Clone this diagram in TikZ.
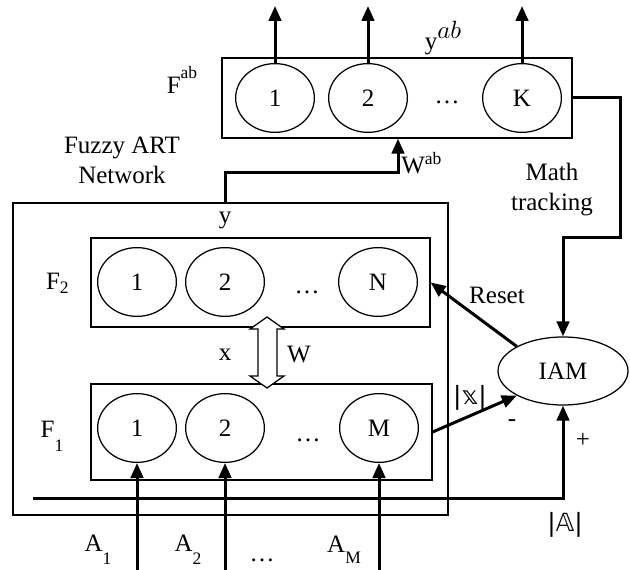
\documentclass[tikz,border=0pt]{standalone}
\usepackage{fontspec}
\setmainfont{Liberation Serif}
\newfontfamily\doublefont{DejaVu Sans}
\usetikzlibrary{arrows.meta,shapes,positioning}

\begin{document}
\begin{tikzpicture}[x=0.4pt,y=-0.4pt,
	boite/.style={draw,line width=0.5pt,inner sep=0pt},
	neurone/.style={draw,ellipse,line width=0.5pt,minimum width=31.5pt,minimum height=27.5pt,inner sep=0pt},
	fleche/.style={line width=1.2pt,-{Triangle[length=6pt,width=5pt]}},
	trait/.style={line width=1.2pt},
	etiq/.style={inner sep=0pt}]

%%%%%%%%%%%%%%%%%%%%%%
%%%	    Cadre       %%%
%%%%%%%%%%%%%%%%%%%%%%

\useasboundingbox (0,0) rectangle (630,570);

%%%%%%%%%%%%%%%%%%%%%%
%%%	    Couches     %%%
%%%%%%%%%%%%%%%%%%%%%%

% Couche F^ab
\node[boite,minimum width=140pt,minimum height=32pt] (fab) at (397,98) {};
\node[neurone] (k1) at (275,98) {1};
\node[neurone] (k2) at (368,98) {2};
\node[neurone] (kk) at (522,98) {K};
\node[etiq] (kdots) at (447,102) {\dots};

% Reseau Fuzzy ART
\node[boite,minimum width=174pt,minimum height=124.8pt] (art) at (230.5,359) {};

% Couche F2
\node[boite,minimum width=135.6pt,minimum height=35.6pt] (f2) at (260.5,282.5) {};
\node[neurone] (n1) at (137,282) {1};
\node[neurone] (n2) at (225,282) {2};
\node[neurone] (nn) at (378,282) {N};
\node[etiq] (ndots) at (307,292) {\dots};

% Couche F1
\node[boite,minimum width=136.4pt,minimum height=38.4pt] (f1) at (261.5,432) {};
\node[neurone] (m1) at (137,428) {1};
\node[neurone] (m2) at (225,428) {2};
\node[neurone] (mm) at (379,428) {M};
\node[etiq] (mdots) at (308,440) {\dots};

% Module IAM
\node[draw,ellipse,line width=0.5pt,minimum width=52pt,minimum height=27.2pt,inner sep=0pt] (iam) at (563,371) {IAM};

%%%%%%%%%%%%%%%%%%%%%%
%%%	    Liaisons    %%%
%%%%%%%%%%%%%%%%%%%%%%

% Sorties de F^ab
\coordinate (o1) at (275,6);
\coordinate (o2) at (368,6);
\coordinate (ok) at (522,6);
\draw[fleche] (k1.north) -- (o1);
\draw[fleche] (k2.north) -- (o2);
\draw[fleche] (kk.north) -- (ok);

% Sortie y vers W^ab
\coordinate (ysort) at (225,203);
\coordinate (ycoude) at (398,173);
\draw[fleche] (ysort) |- (ycoude) -- (fab.south -| ycoude);

% Math tracking vers IAM
\coordinate (mt) at (620,238);
\draw[fleche] (fab.east) -| (mt) -| (iam.north);

% Reset et |x|
\draw[fleche] (iam.152) -- (f2.east);
\draw[fleche] (f1.east) -- (iam.208);

% Entree |A|
\coordinate (adeb) at (33,498);
\draw[fleche] (adeb) -| (iam.south);

% Entrees A1 ... AM
\coordinate (a1) at (137,570);
\coordinate (a2) at (225,570);
\coordinate (am) at (379,570);
\draw[fleche] (a1) -- (m1.south);
\draw[fleche] (a2) -- (m2.south);
\draw[fleche] (am) -- (mm.south);

% Fleche double creuse entre F1 et F2
\draw[line width=0.5pt,fill=white] (267,317) -- (284,329) -- (277,329) -- (277,376) -- (284,376)
	-- (267,388) -- (250,376) -- (258,376) -- (258,329) -- (250,329) -- cycle;

%%%%%%%%%%%%%%%%%%%%%%
%%%	   Etiquettes   %%%
%%%%%%%%%%%%%%%%%%%%%%

\node[etiq] (lfab) at (182,80) {F\raisebox{1.3ex}{\scriptsize ab}};
\node[etiq] (lyab) at (443,38) {y\raisebox{1ex}{$ab$}};
\node[etiq,align=center] (lart) at (122,160) {Fuzzy ART\\Network};
\node[etiq] (ly) at (225,220) {y};
\node[etiq] (lwab) at (422,163) {W\textsuperscript{ab}};
\node[etiq,align=center] (lmt) at (552,190) {Math\\tracking};
\node[etiq] (lf2) at (58,283) {F\textsubscript{2}};
\node[etiq] (lf1) at (52,436) {F\raisebox{-1.2ex}{\scriptsize 1}};
\node[etiq] (lx) at (225,355) {x};
\node[etiq] (lw) at (299,355) {W};
\node[etiq] (lreset) at (497,295) {Reset};
\node[etiq] (lnx) at (470,398) {\doublefont |𝕩|};
\node[etiq] (lmoins) at (512,423) {-};
\node[etiq] (lplus) at (583,440) {+};
\node[etiq] (lna) at (565,525) {\doublefont |𝔸|};
\node[etiq] (la1) at (98,550) {A\raisebox{-1.1ex}{\scriptsize 1}};
\node[etiq] (la2) at (188,550) {A\raisebox{-1.1ex}{\scriptsize 2}};
\node[etiq] (lam) at (344,550) {A\raisebox{-1.0ex}{\scriptsize M}};
\node[etiq] (ladots) at (262,560) {\dots};

%%%%%%%%%%%%%%%%%%%%%%%%%%%%%%%%%%%%%%%%%

\end{tikzpicture}
\end{document}
